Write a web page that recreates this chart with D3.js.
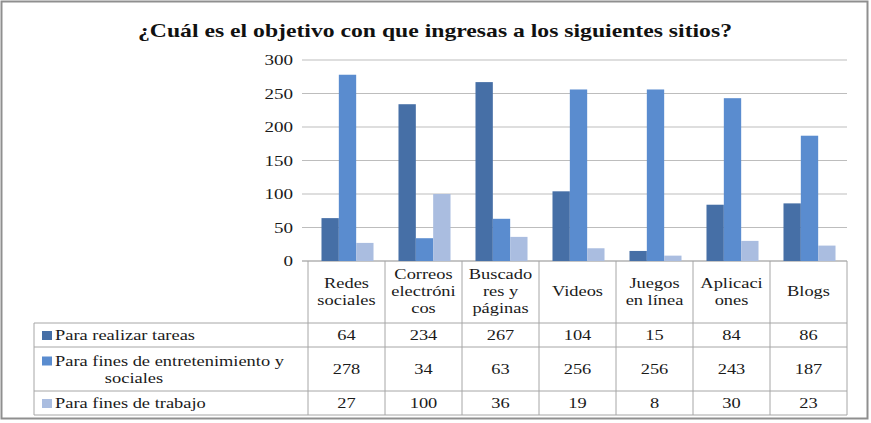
<!DOCTYPE html>
<html>
<head>
<meta charset="utf-8">
<script src="https://cdn.jsdelivr.net/npm/d3@7"></script>
<style>
  body { margin: 0; background: #fff; }
</style>
</head>
<body>
<script>
'use strict'

var w = 871;
var h = 423;

// categories (header lines as shown in the table)
var categories = ["Redes sociales", "Correos electrónicos", "Buscadores y páginas", "Videos", "Juegos en línea", "Aplicaciones", "Blogs"];
var headerLines = [["Redes", "sociales"], ["Correos", "electróni", "cos"], ["Buscado", "res y", "páginas"], ["Videos"], ["Juegos", "en línea"], ["Aplicaci", "ones"], ["Blogs"]];

var seriesNames = ["Para realizar tareas", "Para fines de entretenimiento y sociales", "Para fines de trabajo"];
var tareas = [64, 234, 267, 104, 15, 84, 86];
var entretenimiento = [278, 34, 63, 256, 256, 243, 187];
var trabajo = [27, 100, 36, 19, 8, 30, 23];
var yTicks = [0, 50, 100, 150, 200, 250, 300];

var seriesValues = [tareas, entretenimiento, trabajo];
var colors = ["#466fa6", "#5a8ccf", "#aabde0"];
var serif = "'Liberation Serif', 'DejaVu Serif', 'Times New Roman', serif";

var svg = d3.select("body")
  .append("svg")
  .attr("width", w)
  .attr("height", h)
  .attr("font-family", serif);

// the reference text looks stretched sideways
function label(px, py, t, anchor, size) {
  return svg.append("text")
    .attr("transform", "translate(" + px + "," + py + ") scale(1.27,1)")
    .attr("text-anchor", anchor)
    .attr("font-size", size)
    .attr("fill", "#1a1a1a")
    .text(t);
}

// outer frame
svg.append("rect")
  .attr("x", 1.5).attr("y", 1.5)
  .attr("width", 866).attr("height", 417)
  .attr("fill", "#fff")
  .attr("stroke", "#8f8f8f")
  .attr("stroke-width", 2);

// title
svg.append("text")
  .attr("x", 435)
  .attr("y", 37)
  .attr("text-anchor", "middle")
  .attr("font-weight", "bold")
  .attr("font-size", 19)
  .attr("textLength", 594)
  .attr("lengthAdjust", "spacingAndGlyphs")
  .attr("fill", "#111")
  .text("¿Cuál es el objetivo con que ingresas a los siguientes sitios?");

var x = d3.scaleBand()
  .domain(categories)
  .range([308, 847]);

var x1 = d3.scaleBand()
  .domain(d3.range(seriesNames.length))
  .range([0, x.bandwidth()])
  .paddingOuter(0.72);

var y = d3.scaleLinear()
  .domain([0, 300])
  .range([261, 60]);

// gridlines + tick labels
svg.selectAll("line.grid")
  .data(yTicks)
  .enter()
  .append("line")
  .attr("class", "grid")
  .attr("x1", 302)
  .attr("x2", 847)
  .attr("y1", function(d) { return y(d); })
  .attr("y2", function(d) { return y(d); })
  .attr("stroke", function(d) { return d === 0 ? "#8c8c8c" : "#bdbdbd"; })
  .attr("stroke-width", 1.2);

yTicks.forEach(function(d) {
  label(293, y(d) + 5, d, "end", 15);
});

// bars
var groups = svg.selectAll("g.cat")
  .data(categories)
  .enter()
  .append("g")
  .attr("class", "cat")
  .attr("transform", function(d) { return "translate(" + (x(d) + 1) + ",0)"; });

groups.each(function(c, ci) {
  d3.select(this).selectAll("rect")
    .data(seriesValues.map(function(s) { return s[ci]; }))
    .enter()
    .append("rect")
    .attr("x", function(d, i) { return x1(i); })
    .attr("width", x1.bandwidth())
    .attr("y", function(d) { return y(d); })
    .attr("height", function(d) { return y(0) - y(d); })
    .attr("fill", function(d, i) { return colors[i]; });
});

// data table
var rowLines = [323, 347, 391, 415];
var rowMid = [335, 369, 403];
var tableLeft = 34;
var lineColor = "#a6a6a6";

svg.selectAll("line.hrow")
  .data(rowLines)
  .enter()
  .append("line")
  .attr("x1", tableLeft).attr("x2", 847)
  .attr("y1", function(d) { return d; })
  .attr("y2", function(d) { return d; })
  .attr("stroke", lineColor);

var colEdges = categories.map(function(c) { return x(c); }).concat([x.range()[1]]);
svg.selectAll("line.vcol")
  .data(colEdges)
  .enter()
  .append("line")
  .attr("x1", function(d) { return d; })
  .attr("x2", function(d) { return d; })
  .attr("y1", 261).attr("y2", 415)
  .attr("stroke", lineColor);

svg.append("line")
  .attr("x1", tableLeft).attr("x2", tableLeft)
  .attr("y1", 323).attr("y2", 415)
  .attr("stroke", lineColor);

// header cells
headerLines.forEach(function(lines, ci) {
  var cx = x(categories[ci]) + x.bandwidth() / 2;
  var top = 291 - (lines.length - 1) * 17 / 2;
  lines.forEach(function(t, li) {
    label(cx, top + li * 17 + 5, t, "middle", 14.5);
  });
});

// legend cells
var legendLines = [["Para realizar tareas"], ["Para fines de entretenimiento y", "sociales"], ["Para fines de trabajo"]];
legendLines.forEach(function(lines, si) {
  var firstY = lines.length > 1 ? rowMid[si] - 8.5 : rowMid[si];
  svg.append("rect")
    .attr("x", 42)
    .attr("y", firstY - 4)
    .attr("width", 10).attr("height", 9)
    .attr("fill", colors[si]);
  lines.forEach(function(t, li) {
    label(li === 0 ? 55 : 134, firstY + li * 17 + 5, t, li === 0 ? "start" : "middle", 14.5);
  });
});

// values
seriesValues.forEach(function(vals, si) {
  vals.forEach(function(d, i) {
    label(x(categories[i]) + x.bandwidth() / 2, rowMid[si] + 5, d, "middle", 14.5);
  });
});
</script>
</body>
</html>
